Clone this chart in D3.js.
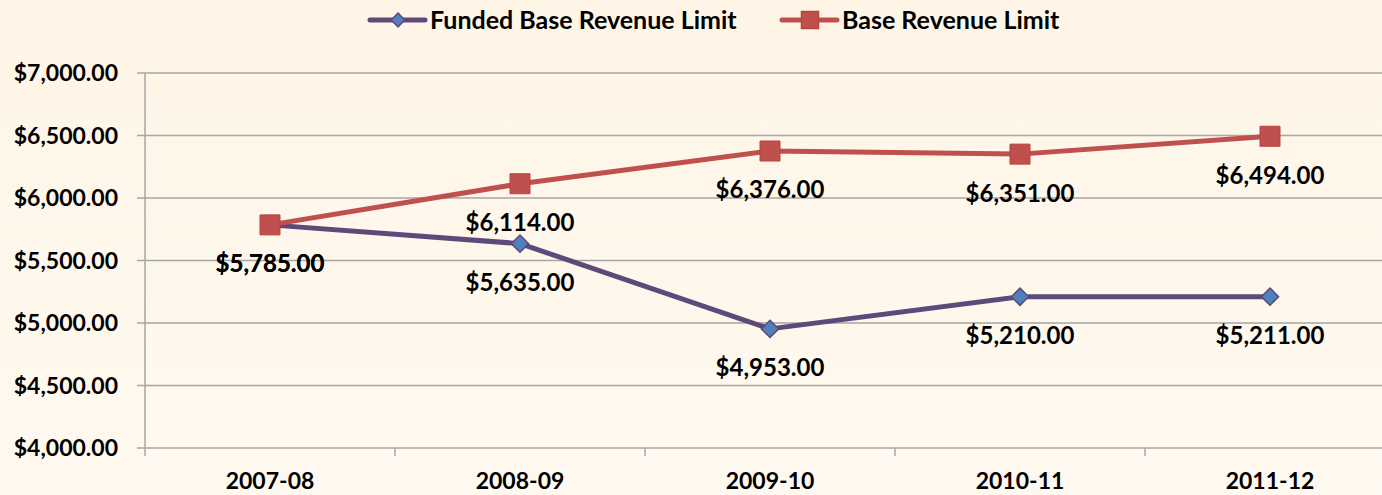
<!DOCTYPE html>
<html>
<head>
<meta charset="utf-8">
<script src="https://cdn.jsdelivr.net/npm/d3@7"></script>
<style>
  html, body { margin: 0; padding: 0; background: #fef6e8; }
  text { font-family: Lato, "Open Sans", sans-serif; font-weight: bold; fill: #000; }
</style>
</head>
<body>
<div id="chart"></div>
<script>
var years = ['2007-08', '2008-09', '2009-10', '2010-11', '2011-12'];
var funded = [5785, 5635, 4953, 5210, 5211];
var baseLimit = [5785, 6114, 6376, 6351, 6494];
var yTicks = [4000, 4500, 5000, 5500, 6000, 6500, 7000];

var width = 1382, height = 495;
var margin = { top: 73, right: -13, bottom: 47, left: 145 };
var purple = '#5f497a', blue = '#4f81bd', red = '#c0504d', grid = '#a6a6a6';

var svg = d3.select('#chart').append('svg')
    .attr('width', width)
    .attr('height', height);

var defs = svg.append('defs');
var grad = defs.append('linearGradient').attr('id', 'bg').attr('x1', 0).attr('y1', 0).attr('x2', 0).attr('y2', 1);
grad.append('stop').attr('offset', '0%').attr('stop-color', '#fef5e6');
grad.append('stop').attr('offset', '100%').attr('stop-color', '#fef9f0');
svg.append('rect').attr('width', width).attr('height', height).attr('fill', 'url(#bg)');

var x = d3.scaleBand()
    .domain(years)
    .range([margin.left, width - margin.right]);

var y = d3.scaleLinear()
    .domain([4000, 7000])
    .range([height - margin.bottom, margin.top]);

var fmt = d3.format('$,.2f');

// gridlines
svg.selectAll('.grid')
    .data(yTicks)
    .enter()
    .append('line')
    .attr('x1', margin.left - 8)
    .attr('x2', width)
    .attr('y1', function(d) { return y(d); })
    .attr('y2', function(d) { return y(d); })
    .attr('stroke', grid)
    .attr('stroke-width', 1.5);

// y axis line
svg.append('line')
    .attr('x1', margin.left).attr('x2', margin.left)
    .attr('y1', y(7000)).attr('y2', y(4000) + 8)
    .attr('stroke', grid).attr('stroke-width', 1.5);

// x ticks at band boundaries
svg.selectAll('.xtick')
    .data(years.slice(1))
    .enter()
    .append('line')
    .attr('x1', function(d) { return x(d); })
    .attr('x2', function(d) { return x(d); })
    .attr('y1', y(4000))
    .attr('y2', y(4000) + 8)
    .attr('stroke', grid).attr('stroke-width', 1.5);

svg.selectAll('.ylabel')
    .data(yTicks)
    .enter()
    .append('text')
    .attr('x', 118)
    .attr('y', function(d) { return y(d); })
    .attr('dy', '0.35em')
    .attr('text-anchor', 'end')
    .style('font-size', '23px')
    .text(function(d) { return fmt(d); });

svg.selectAll('.xlabel')
    .data(years)
    .enter()
    .append('text')
    .attr('x', function(d) { return x(d) + x.bandwidth() / 2; })
    .attr('y', 481)
    .attr('dy', '0.35em')
    .attr('text-anchor', 'middle')
    .style('font-size', '23px')
    .text(function(d) { return d; });

var line = d3.line()
    .x(function(d, i) { return x(years[i]) + x.bandwidth() / 2; })
    .y(function(d) { return y(d); });

function drawSeries(values, color) {
    svg.append('path')
        .datum(values)
        .attr('d', line)
        .attr('fill', 'none')
        .attr('stroke', color)
        .attr('stroke-width', 5)
        .attr('stroke-linejoin', 'round')
        .attr('stroke-linecap', 'round');
}

drawSeries(funded, purple);
drawSeries(baseLimit, red);

var square = d3.symbol().type(d3.symbolSquare).size(400);
var diamond = d3.symbol().type(d3.symbolDiamond2).size(190);
var squareSmall = d3.symbol().type(d3.symbolSquare).size(290);
var diamondSmall = d3.symbol().type(d3.symbolDiamond2).size(120);

svg.selectAll('.fundMark')
    .data(funded)
    .enter()
    .append('path')
    .attr('d', diamond)
    .attr('transform', function(d, i) { return 'translate(' + (x(years[i]) + x.bandwidth() / 2) + ',' + y(d) + ')'; })
    .attr('fill', blue)
    .attr('stroke', purple)
    .attr('stroke-width', 1.5);

svg.selectAll('.baseMark')
    .data(baseLimit)
    .enter()
    .append('path')
    .attr('d', square)
    .attr('transform', function(d, i) { return 'translate(' + (x(years[i]) + x.bandwidth() / 2) + ',' + y(d) + ')'; })
    .attr('fill', red)
    .attr('stroke', '#b8433f')
    .attr('stroke-width', 1);

function drawLabels(values) {
    svg.selectAll(null)
        .data(values)
        .enter()
        .append('text')
        .attr('x', function(d, i) { return x(years[i]) + x.bandwidth() / 2; })
        .attr('y', function(d) { return y(d) + 39; })
        .attr('dy', '0.35em')
        .attr('text-anchor', 'middle')
        .style('font-size', '24px')
        .text(function(d) { return fmt(d); });
}

drawLabels(baseLimit);
drawLabels(funded);

// legend
var legend = [
    { name: 'Funded Base Revenue Limit', color: purple, x: 370 },
    { name: 'Base Revenue Limit', color: red, x: 782 }
];

var lg = svg.selectAll('.legend')
    .data(legend)
    .enter()
    .append('g')
    .attr('transform', function(d) { return 'translate(' + d.x + ',20)'; });

lg.append('line')
    .attr('x1', 0).attr('x2', 55)
    .attr('stroke', function(d) { return d.color; })
    .attr('stroke-width', 5)
    .attr('stroke-linecap', 'round');

lg.append('path')
    .attr('d', function(d, i) { return i === 0 ? diamondSmall() : squareSmall(); })
    .attr('transform', 'translate(28,0)')
    .attr('fill', function(d, i) { return i === 0 ? blue : red; })
    .attr('stroke', function(d, i) { return i === 0 ? purple : '#b8433f'; })
    .attr('stroke-width', 1.5);

lg.append('text')
    .attr('x', 60)
    .attr('dy', '0.35em')
    .style('font-size', '25px')
    .text(function(d) { return d.name; });
</script>
</body>
</html>
